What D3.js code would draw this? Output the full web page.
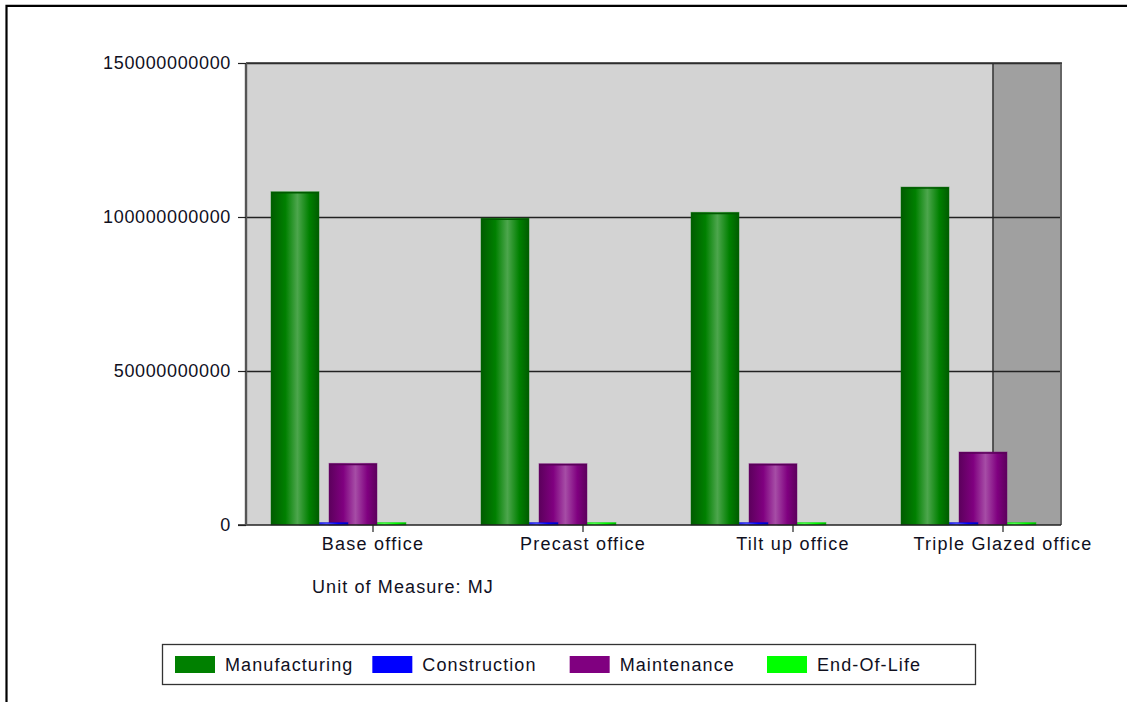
<!DOCTYPE html>
<html>
<head>
<meta charset="utf-8">
<script src="https://cdn.jsdelivr.net/npm/d3@7"></script>
<style>
  html, body { margin: 0; padding: 0; background: #fff; }
  svg { display: block; }
  text { font-family: "Liberation Sans", Arial, sans-serif; fill: #10101e; }
</style>
</head>
<body>
<svg id="chart" width="1127" height="702"></svg>
<script>
// Life-cycle energy per building option (MJ)
const categories = ["Base office", "Precast office", "Tilt up office", "Triple Glazed office"];
const seriesNames = ["Manufacturing", "Construction", "Maintenance", "End-Of-Life"];
const manufacturing = [108.2e9, 99.6e9, 101.5e9, 109.7e9];
const construction = [0.8e9, 0.8e9, 0.8e9, 0.8e9];
const maintenance = [20.0e9, 19.9e9, 19.9e9, 23.7e9];
const endOfLife = [0.8e9, 0.8e9, 0.8e9, 0.8e9];
const yTicks = [0, 50e9, 100e9, 150e9];
const seriesColors = ["#008000", "#0000ff", "#800080", "#00ff00"];
const unitLabel = "Unit of Measure: MJ";

const seriesValues = [manufacturing, construction, maintenance, endOfLife];

const svg = d3.select("#chart");
const W = 1127, H = 702;

// plot frame
const plot = { left: 246, right: 1061, top: 63, bottom: 525 };

// outer frame (left and top edges)
svg.append("path")
  .attr("d", `M6.5,${H} V5.8 H${W}`)
  .attr("fill", "none").attr("stroke", "#000").attr("stroke-width", 2.2);

const y = d3.scaleLinear().domain([0, 150e9]).range([plot.bottom, plot.top]);
const x = d3.scaleBand().domain(categories).range([271, 271 + 210 * categories.length]).paddingInner(0).paddingOuter(0);
const xs = d3.scalePoint().domain(seriesNames).range([0, 87]);
const barW = 48;
const tickOffset = 102;

// gradients: cylinder shading for each series colour
const defs = svg.append("defs");
seriesColors.forEach((c, i) => {
  const dark = d3.interpolateRgb(c, "#000")(0.28);
  const mid = c;
  const light = d3.interpolateRgb(c, "#ffffff")(0.3);
  const g = defs.append("linearGradient").attr("id", "grad" + i)
    .attr("x1", "0%").attr("x2", "100%").attr("y1", "0%").attr("y2", "0%");
  g.append("stop").attr("offset", "0%").attr("stop-color", dark);
  g.append("stop").attr("offset", "30%").attr("stop-color", mid);
  g.append("stop").attr("offset", "55%").attr("stop-color", light);
  g.append("stop").attr("offset", "80%").attr("stop-color", mid);
  g.append("stop").attr("offset", "100%").attr("stop-color", dark);
});

// plot background
svg.append("rect")
  .attr("x", plot.left).attr("y", plot.top)
  .attr("width", plot.right - plot.left).attr("height", plot.bottom - plot.top)
  .attr("fill", "#d3d3d3");

// shaded strip on the right of the plot
const stripX = 993;
svg.append("rect")
  .attr("x", stripX).attr("y", plot.top)
  .attr("width", plot.right - stripX).attr("height", plot.bottom - plot.top)
  .attr("fill", "#a0a0a0");
svg.append("line")
  .attr("x1", stripX).attr("x2", stripX).attr("y1", plot.top).attr("y2", plot.bottom)
  .attr("stroke", "#3a3a3a").attr("stroke-width", 1.6);

// horizontal grid lines
svg.append("g").selectAll("line")
  .data(yTicks.filter(d => d > 0))
  .join("line")
  .attr("x1", plot.left).attr("x2", plot.right)
  .attr("y1", d => Math.round(y(d)) + 0.5).attr("y2", d => Math.round(y(d)) + 0.5)
  .attr("stroke", "#222").attr("stroke-width", 1.3);

// right border of plot
svg.append("line")
  .attr("x1", plot.right).attr("x2", plot.right).attr("y1", plot.top).attr("y2", plot.bottom)
  .attr("stroke", "#666").attr("stroke-width", 2);

// bars, drawn last series first so earlier series sit on top
const rows = [];
categories.forEach((cat, ci) => {
  for (let si = seriesNames.length - 1; si >= 0; si--) {
    rows.push({ cat, si, value: seriesValues[si][ci] });
  }
});
const bars = svg.append("g");
bars.selectAll("rect")
  .data(rows)
  .join("rect")
  .attr("x", d => x(d.cat) + xs(seriesNames[d.si]))
  .attr("y", d => y(d.value))
  .attr("width", barW)
  .attr("height", d => y(0) - y(d.value))
  .attr("fill", d => `url(#grad${d.si})`)
  .attr("stroke", d => d3.interpolateRgb(seriesColors[d.si], "#000")(0.15))
  .attr("stroke-opacity", 0.45)
  .attr("stroke-width", 1);
// darker cap on top of each bar
bars.selectAll("line")
  .data(rows.filter(d => y(0) - y(d.value) > 4))
  .join("line")
  .attr("x1", d => x(d.cat) + xs(seriesNames[d.si]) + 0.5)
  .attr("x2", d => x(d.cat) + xs(seriesNames[d.si]) + barW - 0.5)
  .attr("y1", d => y(d.value) + 1).attr("y2", d => y(d.value) + 1)
  .attr("stroke", d => d3.interpolateRgb(seriesColors[d.si], "#000")(0.3))
  .attr("stroke-width", 1.5);

// zero line
svg.append("line")
  .attr("x1", plot.left - 8).attr("x2", plot.right)
  .attr("y1", plot.bottom).attr("y2", plot.bottom)
  .attr("stroke", "#222").attr("stroke-width", 1.6);
// top border
svg.append("line")
  .attr("x1", plot.left).attr("x2", plot.right + 1)
  .attr("y1", plot.top).attr("y2", plot.top)
  .attr("stroke", "#333").attr("stroke-width", 1.3);

// y axis
const yAxis = svg.append("g")
  .attr("transform", `translate(${plot.left},0)`)
  .call(d3.axisLeft(y).tickValues(yTicks).tickFormat(d3.format("d")).tickSize(8).tickPadding(7));
yAxis.select(".domain").attr("stroke", "#555").attr("stroke-width", 2.4)
  .attr("d", `M0,${plot.top}V${plot.bottom}`);
yAxis.selectAll(".tick line").attr("stroke", "#222").attr("stroke-width", 1.2);
yAxis.selectAll(".tick text")
  .attr("font-size", 18).attr("fill", "#10101e")
  .style("letter-spacing", "0.65px");
yAxis.attr("font-family", null).attr("font-size", null);

// x axis ticks and labels
const xg = svg.append("g");
xg.selectAll("line")
  .data(categories)
  .join("line")
  .attr("x1", d => x(d) + tickOffset).attr("x2", d => x(d) + tickOffset)
  .attr("y1", plot.bottom).attr("y2", plot.bottom + 7)
  .attr("stroke", "#222").attr("stroke-width", 1.2);
xg.selectAll("text")
  .data(categories)
  .join("text")
  .attr("x", d => x(d) + tickOffset)
  .attr("y", 550)
  .attr("text-anchor", "middle")
  .attr("font-size", 18)
  .style("letter-spacing", "1.25px")
  .text(d => d);

svg.append("text")
  .attr("x", 312).attr("y", 593)
  .attr("font-size", 18)
  .style("letter-spacing", "1.1px")
  .text(unitLabel);

// legend
const legend = svg.append("g");
legend.append("rect")
  .attr("x", 162.5).attr("y", 644.5).attr("width", 813).attr("height", 40)
  .attr("fill", "#fff").attr("stroke", "#333").attr("stroke-width", 1.3);
const legendX = d3.scalePoint().domain(seriesNames).range([175, 767]);
const items = legend.selectAll("g.item")
  .data(seriesNames)
  .join("g").attr("class", "item")
  .attr("transform", d => `translate(${legendX(d)},656)`);
items.append("rect")
  .attr("width", 40).attr("height", 17)
  .attr("fill", (d, i) => seriesColors[i]);
items.append("text")
  .attr("x", 50).attr("y", 15)
  .attr("font-size", 18)
  .style("letter-spacing", "1.1px")
  .text(d => d);
</script>
</body>
</html>
